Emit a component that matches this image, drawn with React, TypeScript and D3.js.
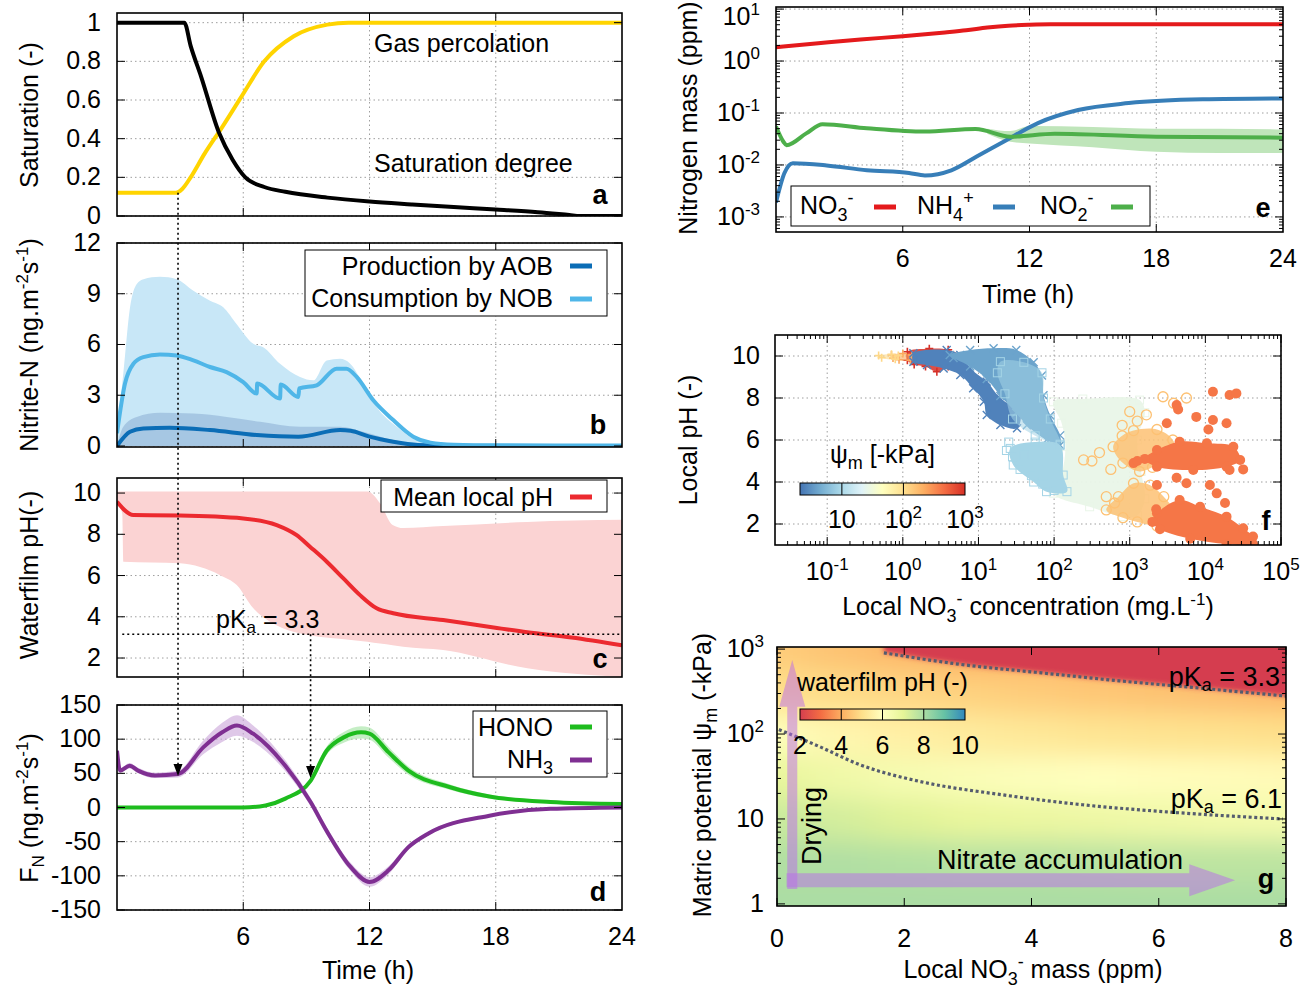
import * as d3 from 'd3';

// ---------- panel a : saturation ----------
const gasTime = [0, 2.8, 3.1, 3.5, 4.15, 5, 5.9, 7, 8.4, 10, 11, 24];
const gasPercolation = [0.12, 0.12, 0.14, 0.2, 0.32, 0.46, 0.615, 0.8, 0.93, 0.99, 1, 1];
const satTime = [0, 3.2, 3.5, 4, 4.85, 5.5, 6.1, 7, 8, 10, 12, 14, 16, 18, 20, 21.5, 22, 24];
const satDegree = [1, 1, 0.88, 0.72, 0.43, 0.29, 0.2, 0.15, 0.125, 0.095, 0.075, 0.06, 0.046, 0.034, 0.02, 0.005, 0, 0];
const satTicks = [0, 0.2, 0.4, 0.6, 0.8, 1];

// ---------- panel b : nitrite-N rates ----------
const nobTime = [0, 0.38, 0.78, 1.25, 2.04, 2.84, 3.63, 4.42, 5.21, 6.0, 6.64, 6.66, 7.75, 7.78, 8.62, 8.66, 9.49, 10.44, 10.9, 11.39, 12.18, 13.13, 14.08, 14.9, 16, 18, 24];
const nobRate = [0.76, 3.69, 4.86, 5.25, 5.41, 5.35, 5.06, 4.67, 4.37, 3.78, 3.1, 3.69, 2.8, 3.63, 2.9, 3.4, 3.59, 4.57, 4.57, 4.08, 2.7, 1.53, 0.55, 0.2, 0.08, 0.04, 0.03];
const nobBandTime = [0, 0.3, 0.62, 0.94, 1.26, 2.04, 2.84, 3.63, 4.42, 5.05, 5.69, 6.48, 6.95, 7.75, 8.7, 9.33, 9.97, 10.6, 11.07, 11.7, 12.34, 13.3, 14.24, 15.5, 18, 24];
const nobBandHi = [0.76, 4.3, 8.2, 9.57, 9.86, 10.0, 9.86, 9.18, 8.59, 8.2, 7.2, 6.04, 5.84, 4.86, 4.08, 3.88, 5.06, 5.15, 4.88, 3.69, 2.31, 1.14, 0.35, 0.12, 0.06, 0.05];
const aobTime = [0, 0.62, 1.25, 2.5, 4.42, 6.64, 8.62, 10.6, 11.1, 12, 13.13, 14.3, 16, 24];
const aobRate = [0, 0.84, 1.04, 1.08, 0.94, 0.65, 0.55, 0.94, 0.9, 0.55, 0.25, 0.06, 0.01, 0];
const aobBandTime = [0, 0.3, 0.94, 2.04, 3.63, 5.21, 6.8, 8.7, 10.6, 11.7, 13.13, 14.3, 16, 24];
const aobBandHi = [0.05, 1.14, 1.72, 1.96, 1.92, 1.72, 1.43, 1.14, 1.14, 0.84, 0.35, 0.1, 0.02, 0];
const nitriteTicks = [0, 3, 6, 9, 12];

// ---------- panel c : waterfilm pH ----------
const phTime = [0, 0.78, 3, 6.0, 7.59, 8.54, 9.17, 9.97, 10.76, 11.55, 12.34, 13.13, 15.5, 17.9, 19.5, 21.6, 24];
const phMean = [9.58, 8.93, 8.91, 8.77, 8.45, 7.96, 7.4, 6.67, 5.86, 5.05, 4.41, 4.17, 3.84, 3.48, 3.25, 3.0, 2.62];
const phBandTime = [0, 0.25, 0.3, 3, 4.9, 5.69, 6.48, 7.27, 8.38, 11.9, 12.5, 13.1, 13.6, 15.5, 19.5, 24];
const phBandHi = [10.07, 10.07, 10.07, 10.07, 10.07, 10.07, 10.07, 10.07, 10.07, 10.07, 9.5, 8.45, 8.3, 8.4, 8.6, 8.7];
const phBandLo = [9.58, 9.0, 6.67, 6.59, 6.02, 5.54, 4.41, 3.76, 3.28, 2.79, 2.7, 2.62, 2.55, 2.39, 1.5, 1.08];
const phTicks = [2, 4, 6, 8, 10];
const pkaHono = 3.15;

// ---------- panel d : fluxes ----------
const nh3Time = [0, 0.15, 0.6, 1.0, 1.8, 2.9, 4.1, 5.0, 5.7, 6.47, 8, 9.2, 9.96, 11.1, 12, 12.9, 13.85, 14.8, 17.7, 20.6, 24];
const nh3Flux = [83, 54, 61, 54, 47, 49, 88, 110, 120, 108, 61, 8, -34, -87, -109, -92, -58, -38, -12, -2, 0];
const nh3Spread = [0, 3, 4, 4, 4, 5, 10, 14, 15, 12, 8, 6, 6, 6, 7, 6, 4, 3, 2, 1, 1];
const honoTime = [0, 6, 7.06, 8, 9.2, 9.96, 10.8, 11.6, 12, 12.9, 13.85, 15.8, 17.7, 20.6, 24];
const honoFlux = [0, 0, 3, 13, 39, 83, 103, 110, 108, 81, 54, 30, 16, 8, 5];
const honoSpread = [0, 0, 1, 2, 4, 6, 8, 9, 9, 8, 6, 4, 3, 2, 2];
const fluxTicks = [-150, -100, -50, 0, 50, 100, 150];
const arrowTimes = [2.9, 9.2];

const timeTicks = [6, 12, 18];
const timeLabels = [6, 12, 18, 24];

// ---------- panel e : nitrogen mass ----------
const no3Time = [0, 2, 4, 6, 8, 9, 10, 11, 12, 13, 24];
const no3Mass = [1.85, 2.2, 2.6, 3.0, 3.55, 3.9, 4.4, 4.8, 5.0, 5.1, 5.1];
const nh4Time = [0, 0.4, 0.8, 2.4, 4.3, 6.3, 7.05, 8.3, 9.5, 10.9, 12.4, 14.3, 16.7, 20.2, 24];
const nh4Mass = [0.0019, 0.007, 0.0108, 0.0098, 0.0079, 0.007, 0.0063, 0.0079, 0.0145, 0.03, 0.064, 0.114, 0.155, 0.183, 0.19];
const no2Time = [0, 0.35, 0.5, 1.45, 2.2, 4.3, 7.05, 9.45, 11.1, 13.2, 18, 24];
const no2Mass = [0.055, 0.028, 0.024, 0.041, 0.061, 0.051, 0.044, 0.049, 0.035, 0.04, 0.035, 0.0335];
const no2BandTime = [10, 11.1, 12, 15, 18, 21, 24];
const no2BandHi = [0.05, 0.045, 0.056, 0.054, 0.05, 0.05, 0.048];
const no2BandLo = [0.04, 0.028, 0.026, 0.022, 0.018, 0.017, 0.017];
const massDecades = [-3, -2, -1, 0, 1];

// ---------- panel f : local pH vs local NO3- ([log10 conc, pH]) ----------
const fPale = [[1.99, 7.82], [2.38, 7.95], [3.13, 7.9], [3.2, 7.3], [3.1, 6.0], [3.15, 4.5], [3.2, 3.2], [3.1, 2.4], [2.91, 2.35], [2.47, 2.82], [1.99, 3.47], [2.1, 4.4], [2.15, 5.7], [2.1, 6.8]];
const fRingsUpper = [[2.78, 5.68], [2.9, 6.2], [3.05, 6.45], [3.36, 6.5], [3.57, 6.0], [3.6, 5.2], [3.3, 4.7], [3.13, 4.5], [2.91, 4.9]];
const fRingsLower = [[2.69, 2.67], [2.85, 3.3], [3.05, 3.94], [3.27, 3.85], [3.45, 3.3], [3.6, 2.5], [3.5, 1.95], [3.36, 1.9], [3.1, 2.1], [2.91, 2.3]];
const fDotsUpper = [[3.36, 5.52], [3.66, 5.92], [4.02, 5.84], [4.37, 5.68], [4.46, 5.05], [4.28, 4.73], [3.84, 4.57], [3.36, 4.73], [3.2, 5.1]];
const fDotsLower = [[3.36, 2.51], [3.66, 3.14], [3.93, 2.82], [4.28, 2.35], [4.5, 1.8], [4.63, 1.4], [4.63, 1.05], [4.28, 1.05], [3.8, 1.3], [3.4, 1.75], [3.3, 2.1]];
const fRedPlus = [[0.06, 10.2], [0.35, 10.35], [0.6, 10.3], [0.76, 10.0], [0.6, 9.5], [0.45, 9.25], [0.3, 9.5], [0.15, 9.6], [0.06, 9.8]];
const fOrangePlus = [[-0.15, 10.05], [0.0, 10.12], [0.12, 10.05], [0.1, 9.8], [-0.05, 9.82], [-0.13, 9.9]];
const fYellowPlus = [[-0.32, 10.02], [-0.15, 10.08], [-0.06, 10.02], [-0.1, 9.85], [-0.28, 9.92]];
const fDarkBlue = [[0.14, 10.13], [0.58, 10.29], [0.76, 10.05], [0.89, 9.41], [1.11, 8.78], [1.29, 7.98], [1.55, 7.35], [1.51, 6.56], [1.29, 6.71], [1.11, 7.19], [1.07, 7.82], [0.93, 8.46], [0.76, 9.1], [0.54, 9.41], [0.32, 9.57], [0.14, 9.73]];
const fMidBlue = [[0.62, 10.05], [0.89, 10.29], [1.2, 10.37], [1.5, 10.29], [1.73, 9.7], [1.84, 9.07], [1.86, 8.13], [1.95, 7.17], [2.08, 6.22], [2.08, 5.75], [1.9, 6.0], [1.64, 6.7], [1.5, 7.3], [1.29, 8.1], [1.11, 8.9], [0.89, 9.5], [0.67, 9.9]];
const fLightUpper = [[1.29, 9.73], [1.6, 9.7], [1.84, 9.2], [1.86, 8.0], [1.95, 7.0], [2.08, 5.8], [1.75, 6.2], [1.45, 7.0], [1.35, 8.2], [1.25, 9.2]];
const fLightLower = [[1.42, 5.6], [1.75, 5.9], [2.08, 5.75], [2.12, 4.33], [2.17, 3.54], [1.9, 3.54], [1.73, 4.0], [1.46, 4.81]];
const fDotsSparse = [[4.1, 8.3], [4.32, 8.14], [4.41, 8.22], [3.62, 7.67], [3.64, 7.45], [3.88, 7.1], [3.49, 6.8], [4.1, 6.95], [4.28, 6.8], [4.04, 6.5], [3.36, 3.86], [3.75, 3.94], [4.06, 3.86], [4.15, 3.46], [4.26, 3.0], [4.32, 4.57], [3.62, 4.2], [3.05, 4.9], [3.1, 5.0], [4.5, 4.6], [3.35, 2.7]];
const fRingsSparse = [[2.39, 5.05], [2.5, 5.0], [2.69, 3.3], [3.0, 7.35], [3.44, 8.06], [3.75, 8.0], [3.22, 7.2], [3.1, 6.9], [2.6, 5.4], [2.75, 4.6], [3.58, 7.75], [2.8, 3.0], [2.9, 6.7]];
const fSquaresSparse = [[1.37, 5.5], [1.45, 5.2], [1.55, 4.6], [1.7, 4.3], [2.0, 3.6], [1.4, 5.9], [1.6, 5.3], [1.85, 3.9]];
// log10 of matric potential (-kPa) of each cloud
const psiDarkBlue = 0.4, psiMidBlue = 0.6, psiLight = 0.95, psiPale = 1.42;
const psiRings = 2.2, psiDots = 2.62, psiRedPlus = 3.0, psiOrangePlus = 2.35, psiYellowPlus = 2.05;
const concDecades = [-1, 0, 1, 2, 3, 4, 5];
const fPhTicks = [2, 4, 6, 8, 10];
const psiBarTicks = [1, 2];

// ---------- panel g : waterfilm pH map ----------
const gMass = [0, 1, 2, 3, 4, 5, 6, 7, 8];
const gLogPsi = [0, 0.5, 1, 1.5, 2, 2.5, 3];
const gPh = [
  [8.0, 8.0, 8.0, 8.0, 8.0, 8.0, 8.0, 8.0, 8.0],
  [7.9, 7.9, 7.85, 7.8, 7.8, 7.75, 7.7, 7.7, 7.7],
  [7.5, 7.3, 7.1, 6.9, 6.8, 6.7, 6.6, 6.5, 6.45],
  [6.9, 6.6, 6.35, 6.2, 6.1, 6.0, 5.95, 5.9, 5.85],
  [6.1, 5.7, 5.5, 5.35, 5.25, 5.15, 5.1, 5.05, 5.0],
  [5.0, 4.9, 4.8, 4.7, 4.6, 4.5, 4.4, 4.3, 4.2],
  [4.6, 4.4, 4.2, 4.0, 4.0, 4.0, 4.0, 4.0, 4.0],
];
const pka33Mass = [1.68, 2.89, 4.16, 5.44, 6.71, 8.01];
const pka33Psi = [904, 660, 525, 419, 344, 279];
const pka61Mass = [0.03, 0.66, 1.3, 2.25, 3.53, 4.8, 6.07, 7.95];
const pka61Psi = [113, 71.6, 43.6, 27.6, 19.3, 14.7, 12.2, 10.0];
const gMassTicks = [0, 2, 4, 6, 8];
const gPsiTicks = [1, 10, 100, 1000];
const gBarTicks = [2, 4, 6, 8, 10];

// ---------- styling ----------
const FONT = '"Liberation Sans", Arial, Helvetica, sans-serif';
const GRID = '#9e9e9e';
const psiStops = ['#4575b4', '#74add1', '#abd9e9', '#e0f3f8', '#ffffbf', '#fee090', '#fdae61', '#f46d43', '#d73027'];
const phStops = ['#d53e4f', '#f46d43', '#fdae61', '#fee08b', '#ffffbf', '#e6f598', '#abdda4', '#66c2a5', '#3288bd'];

// ---------- scales ----------
const xT = d3.scaleLinear().domain([0, 24]).range([117, 622]);
const yA = d3.scaleLinear().domain([0, 1.05]).range([216, 13]);
const yB = d3.scaleLinear().domain([-0.06, 12]).range([447, 243]);
const yC = d3.scaleLinear().domain([1.08, 10.73]).range([677, 478]);
const yD = d3.scaleLinear().domain([-150, 150]).range([910, 705]);
const xE = d3.scaleLinear().domain([0, 24]).range([776, 1283]);
const yE = d3.scaleLog().domain([10 ** -3.29, 10 ** 1.04]).range([232, 7]);
const xF = d3.scaleLog().domain([10 ** -1.69, 1e5]).range([775, 1281]);
const yF = d3.scaleLinear().domain([1, 11]).range([545, 335]);
const xG = d3.scaleLinear().domain([0, 8]).range([777, 1286]);
const yG = d3.scaleLog().domain([10 ** -0.025, 10 ** 3.025]).range([906, 647]);
const psiColor = d3.scaleLinear<string>().domain(d3.range(9).map((i) => 0.32 + (i * 2.68) / 8)).range(psiStops);
const phColor = d3.scaleLinear<string>().domain([2, 3, 4, 5, 6, 7, 8, 9, 10]).range(phStops);
const cbF = d3.scaleLinear().domain([0.32, 3]).range([800, 965]);
const cbG = d3.scaleLinear().domain([2, 10]).range([800, 965]);

const linePath = (ts: number[], vs: number[], sx: any, sy: any) =>
  d3.line<number>().x((_, i) => sx(ts[i])).y((v) => sy(v)).curve(d3.curveMonotoneX)(vs) ?? '';
const areaPath = (ts: number[], lo: number[], hi: number[], sx: any, sy: any) =>
  d3.area<number>().x((t) => sx(t)).y0((_, i) => sy(lo[i])).y1((_, i) => sy(hi[i])).curve(d3.curveMonotoneX)(ts) ?? '';
const hullPath = (pts: number[][]) =>
  d3.line<number[]>().x((p) => xF(10 ** p[0])).y((p) => yF(p[1])).curve(d3.curveCatmullRomClosed.alpha(0.5))(pts) ?? '';
const logMinor = (lo: number, hi: number, dmin: number, dmax: number) =>
  d3.range(lo, hi).flatMap((k) => d3.range(2, 10).map((m) => m * 10 ** k)).filter((v) => v > dmin && v < dmax);

function Axes({ sx, sy, xTicks, yTicks, xMinor = [], yMinor = [], grid = true, id, children }: any) {
  const [x0, x1] = sx.range();
  const [y0, y1] = sy.range();
  return (
    <g>
      <clipPath id={id}>
        <rect x={x0} y={y1} width={x1 - x0} height={y0 - y1} />
      </clipPath>
      {grid && (
        <g stroke={GRID} strokeWidth={1} strokeDasharray="1.5,3">
          {xTicks.map((t: number) => <line key={'gx' + t} x1={sx(t)} x2={sx(t)} y1={y0} y2={y1} />)}
          {yTicks.map((t: number) => <line key={'gy' + t} x1={x0} x2={x1} y1={sy(t)} y2={sy(t)} />)}
        </g>
      )}
      <g clipPath={`url(#${id})`}>{children}</g>
      <g stroke="#000" strokeWidth={1}>
        {xTicks.map((t: number) => <path key={'tx' + t} d={`M${sx(t)},${y0}v-8M${sx(t)},${y1}v8`} />)}
        {yTicks.map((t: number) => <path key={'ty' + t} d={`M${x0},${sy(t)}h8M${x1},${sy(t)}h-8`} />)}
        {xMinor.map((t: number) => <path key={'mx' + t} d={`M${sx(t)},${y0}v-4M${sx(t)},${y1}v4`} />)}
        {yMinor.map((t: number) => <path key={'my' + t} d={`M${x0},${sy(t)}h4M${x1},${sy(t)}h-4`} />)}
      </g>
      <rect x={x0} y={y1} width={x1 - x0} height={y0 - y1} fill="none" stroke="#000" strokeWidth={1.6} />
    </g>
  );
}

function Marker({ kind, x, y, color }: any) {
  const s = 4;
  if (kind === 'plus') return <path d={`M${x - s},${y}H${x + s}M${x},${y - s}V${y + s}`} stroke={color} strokeWidth={1.6} />;
  if (kind === 'cross') return <path d={`M${x - s},${y - s}L${x + s},${y + s}M${x - s},${y + s}L${x + s},${y - s}`} stroke={color} strokeWidth={1.4} />;
  if (kind === 'square') return <rect x={x - s} y={y - s} width={2 * s} height={2 * s} fill="none" stroke={color} strokeWidth={1} />;
  if (kind === 'ring') return <circle cx={x} cy={y} r={5} fill="none" stroke={color} strokeWidth={1.3} />;
  return <circle cx={x} cy={y} r={5} fill={color} />;
}

const Sup = ({ t }: { t: string }) => (
  <tspan dy={-10} fontSize={17}>
    {t}
  </tspan>
);

function Arrowhead({ x, y }: { x: number; y: number }) {
  return <path d={`M${x},${y}L${x - 4.5},${y - 12}L${x + 4.5},${y - 12}Z`} fill="#000" />;
}

function LegendLine({ x, y, color }: any) {
  return <line x1={x} x2={x + 22} y1={y} y2={y} stroke={color} strokeWidth={5} />;
}

export default function App() {
  const fLayers = [
    { pts: fPale, psi: psiPale, kind: 'square', op: 0.95 },
    { pts: fRingsUpper, psi: psiRings, kind: 'ring', op: 0.85 },
    { pts: fRingsLower, psi: psiRings, kind: 'ring', op: 0.85 },
    { pts: fDotsUpper, psi: psiDots, kind: 'dot', op: 1 },
    { pts: fDotsLower, psi: psiDots, kind: 'dot', op: 1 },
    { pts: fRedPlus, psi: psiRedPlus, kind: 'plus', op: 0.85 },
    { pts: fOrangePlus, psi: psiOrangePlus, kind: 'plus', op: 0.6 },
    { pts: fYellowPlus, psi: psiYellowPlus, kind: 'plus', op: 0.6 },
    { pts: fDarkBlue, psi: psiDarkBlue, kind: 'cross', op: 1 },
    { pts: fMidBlue, psi: psiMidBlue, kind: 'cross', op: 1 },
    { pts: fLightLower, psi: psiLight, kind: 'square', op: 1 },
    { pts: fLightUpper, psi: psiLight, kind: 'square', op: 0.55 },
  ];

  const massMinor = logMinor(-4, 1, yE.domain()[0], yE.domain()[1]);
  const concMinor = logMinor(-2, 5, xF.domain()[0], xF.domain()[1]);
  const psiMinor = logMinor(0, 3, yG.domain()[0], yG.domain()[1]);

  const pka33Line = d3.line<number>().x((m) => xG(m)).y((_, i) => yG(pka33Psi[i])).curve(d3.curveMonotoneX)(pka33Mass) ?? '';
  const pka61Line = d3.line<number>().x((m) => xG(m)).y((_, i) => yG(pka61Psi[i])).curve(d3.curveMonotoneX)(pka61Mass) ?? '';
  const redTop = yG(1200);
  const redRegion = `${pka33Line}L${xG(8.4)},${yG(pka33Psi[pka33Psi.length - 1])}L${xG(8.4)},${redTop}L${xG(pka33Mass[0])},${redTop}Z`;

  return (
    <svg
      width={1308}
      height={989}
      viewBox="0 0 1308 989"
      style={{ position: 'absolute', left: 0, top: 0, display: 'block' }}
      fontFamily={FONT}
      fontSize={25}
    >
      <defs>
        <linearGradient id="psiGrad" x1="0" x2="1" y1="0" y2="0">
          {psiStops.map((c, i) => <stop key={c} offset={i / 8} stopColor={c} />)}
        </linearGradient>
        <linearGradient id="phGrad" x1="0" x2="1" y1="0" y2="0">
          {phStops.map((c, i) => <stop key={c} offset={i / 8} stopColor={c} />)}
        </linearGradient>
        <filter id="blurG" x="-50%" y="-50%" width="200%" height="200%">
          <feGaussianBlur stdDeviation="20 13" />
        </filter>
        <filter id="blurRed" x="-10%" y="-10%" width="120%" height="120%">
          <feGaussianBlur stdDeviation="2.5" />
        </filter>
      </defs>
      <rect width={1308} height={989} fill="#fff" />

      {/* ---------------- a ---------------- */}
      <Axes sx={xT} sy={yA} xTicks={timeTicks} yTicks={satTicks} id="clipA">
        <path d={linePath(gasTime, gasPercolation, xT, yA)} fill="none" stroke="#ffd400" strokeWidth={4} />
        <path d={linePath(satTime, satDegree, xT, yA)} fill="none" stroke="#000" strokeWidth={4} />
      </Axes>
      {satTicks.map((t) => (
        <text key={'la' + t} x={101} y={yA(t) + 8} textAnchor="end">{String(t)}</text>
      ))}
      <text x={374} y={52}>Gas percolation</text>
      <text x={374} y={172}>Saturation degree</text>
      <text x={600} y={204} textAnchor="middle" fontWeight="bold" fontSize={27}>a</text>
      <text transform="translate(38,115) rotate(-90)" textAnchor="middle">Saturation (-)</text>

      {/* ---------------- b ---------------- */}
      <Axes sx={xT} sy={yB} xTicks={timeTicks} yTicks={nitriteTicks} id="clipB">
        <path d={areaPath(nobBandTime, nobBandTime.map(() => 0), nobBandHi, xT, yB)} fill="#c8e7f7" />
        <path d={areaPath(aobBandTime, aobBandTime.map(() => 0), aobBandHi, xT, yB)} fill="#97b9da" fillOpacity={0.7} />
        <path d={linePath(aobTime, aobRate, xT, yB)} fill="none" stroke="#0b6db6" strokeWidth={4} />
        <path d={linePath(nobTime, nobRate, xT, yB)} fill="none" stroke="#4fb6e8" strokeWidth={4} />
      </Axes>
      {nitriteTicks.map((t) => (
        <text key={'lb' + t} x={101} y={yB(t) + 8} textAnchor="end">{String(t)}</text>
      ))}
      <rect x={305} y={250} width={302} height={66} fill="#fff" stroke="#000" strokeWidth={1} />
      <text x={553} y={275} textAnchor="end">Production by AOB</text>
      <text x={553} y={307} textAnchor="end">Consumption by NOB</text>
      <LegendLine x={570} y={266} color="#0b6db6" />
      <LegendLine x={570} y={299} color="#4fb6e8" />
      <text x={598} y={434} textAnchor="middle" fontWeight="bold" fontSize={27}>b</text>
      <text transform="translate(38,345) rotate(-90)" textAnchor="middle">
        Nitrite-N (ng.m<Sup t="-2" /><tspan dy={10}>s</tspan><Sup t="-1" /><tspan dy={10}>)</tspan>
      </text>

      {/* ---------------- c ---------------- */}
      <Axes sx={xT} sy={yC} xTicks={timeTicks} yTicks={phTicks} id="clipC">
        <path d={areaPath(phBandTime, phBandLo, phBandHi, xT, yC)} fill="#fbd3d3" />
        <path d={linePath(phTime, phMean, xT, yC)} fill="none" stroke="#ec2a2f" strokeWidth={4} />
        <line x1={xT(0.25)} x2={xT(24)} y1={yC(pkaHono)} y2={yC(pkaHono)} stroke="#000" strokeWidth={1.6} strokeDasharray="2,3" />
      </Axes>
      {phTicks.map((t) => (
        <text key={'lc' + t} x={101} y={yC(t) + 8} textAnchor="end">{String(t)}</text>
      ))}
      <rect x={381} y={480} width={226} height={32} fill="#fff" stroke="#000" strokeWidth={1} />
      <text x={553} y={506} textAnchor="end">Mean local pH</text>
      <LegendLine x={570} y={497} color="#ec2a2f" />
      <text x={216} y={628}>
        pK<tspan dy={5} fontSize={17}>a</tspan>
        <tspan dy={-5}> = 3.3</tspan>
      </text>
      <text x={600} y={668} textAnchor="middle" fontWeight="bold" fontSize={27}>c</text>
      <text transform="translate(38,575) rotate(-90)" textAnchor="middle">Waterfilm pH(-)</text>

      {/* ---------------- d ---------------- */}
      <Axes sx={xT} sy={yD} xTicks={timeTicks} yTicks={fluxTicks} id="clipD">
        <path d={areaPath(nh3Time, nh3Flux.map((v, i) => v - nh3Spread[i]), nh3Flux.map((v, i) => v + nh3Spread[i]), xT, yD)} fill="#c9a3d8" fillOpacity={0.6} />
        <path d={areaPath(honoTime, honoFlux.map((v, i) => v - honoSpread[i]), honoFlux.map((v, i) => v + honoSpread[i]), xT, yD)} fill="#9fe29f" fillOpacity={0.6} />
        <path d={linePath(honoTime, honoFlux, xT, yD)} fill="none" stroke="#1ebc1e" strokeWidth={4} />
        <path d={linePath(nh3Time, nh3Flux, xT, yD)} fill="none" stroke="#7f2f92" strokeWidth={4} />
      </Axes>
      {fluxTicks.map((t) => (
        <text key={'ld' + t} x={101} y={yD(t) + 8} textAnchor="end">{String(t)}</text>
      ))}
      {timeLabels.map((t) => (
        <text key={'xd' + t} x={xT(t)} y={945} textAnchor="middle">{String(t)}</text>
      ))}
      <rect x={473} y={711} width={134} height={66} fill="#fff" stroke="#000" strokeWidth={1} />
      <text x={553} y={736} textAnchor="end">HONO</text>
      <text x={553} y={768} textAnchor="end">
        NH<tspan dy={6} fontSize={18}>3</tspan>
      </text>
      <LegendLine x={570} y={727} color="#1ebc1e" />
      <LegendLine x={570} y={760} color="#7f2f92" />
      <text x={598} y={901} textAnchor="middle" fontWeight="bold" fontSize={27}>d</text>
      <text x={368} y={979} textAnchor="middle">Time (h)</text>
      <text transform="translate(38,808) rotate(-90)" textAnchor="middle">
        F<tspan dy={6} fontSize={17}>N</tspan>
        <tspan dy={-6}> (ng.m</tspan>
        <Sup t="-2" />
        <tspan dy={10}>s</tspan>
        <Sup t="-1" />
        <tspan dy={10}>)</tspan>
      </text>

      {/* dotted onset arrows across a-d */}
      <g stroke="#000" strokeWidth={1.6} strokeDasharray="2,3">
        <line x1={xT(arrowTimes[0])} x2={xT(arrowTimes[0])} y1={yA(0.12)} y2={yD(46) - 10} />
        <line x1={xT(arrowTimes[1])} x2={xT(arrowTimes[1])} y1={yC(pkaHono)} y2={yD(43) - 10} />
      </g>
      <Arrowhead x={xT(arrowTimes[0])} y={yD(46)} />
      <Arrowhead x={xT(arrowTimes[1])} y={yD(43)} />

      {/* ---------------- e ---------------- */}
      <Axes sx={xE} sy={yE} xTicks={timeTicks} yTicks={massDecades.map((k) => 10 ** k)} yMinor={massMinor} id="clipE">
        <path d={areaPath(no2BandTime, no2BandLo, no2BandHi, xE, yE)} fill="#bfe5ba" />
        <path d={linePath(no3Time, no3Mass, xE, yE)} fill="none" stroke="#e41a1c" strokeWidth={4} />
        <path d={linePath(nh4Time, nh4Mass, xE, yE)} fill="none" stroke="#377eb8" strokeWidth={4} />
        <path d={linePath(no2Time, no2Mass, xE, yE)} fill="none" stroke="#4daf4a" strokeWidth={4} />
      </Axes>
      {massDecades.map((k) => (
        <text key={'le' + k} x={760} y={Math.max(25, yE(10 ** k) + 8)} textAnchor="end">
          10<Sup t={String(k)} />
        </text>
      ))}
      {timeLabels.map((t) => (
        <text key={'xe' + t} x={xE(t)} y={267} textAnchor="middle">{String(t)}</text>
      ))}
      <rect x={791} y={186} width={359} height={40} fill="#fff" stroke="#000" strokeWidth={1} />
      <text x={800} y={214}>
        NO<tspan dy={7} fontSize={18}>3</tspan>
        <tspan dy={-17} fontSize={18}>-</tspan>
      </text>
      <LegendLine x={874} y={207} color="#e41a1c" />
      <text x={917} y={214}>
        NH<tspan dy={7} fontSize={18}>4</tspan>
        <tspan dy={-17} fontSize={18}>+</tspan>
      </text>
      <LegendLine x={993} y={207} color="#377eb8" />
      <text x={1040} y={214}>
        NO<tspan dy={7} fontSize={18}>2</tspan>
        <tspan dy={-17} fontSize={18}>-</tspan>
      </text>
      <LegendLine x={1111} y={207} color="#4daf4a" />
      <text x={1263} y={217} textAnchor="middle" fontWeight="bold" fontSize={27}>e</text>
      <text x={1028} y={303} textAnchor="middle">Time (h)</text>
      <text transform="translate(697,118) rotate(-90)" textAnchor="middle">Nitrogen mass (ppm)</text>

      {/* ---------------- f ---------------- */}
      <Axes sx={xF} sy={yF} xTicks={concDecades.map((k) => 10 ** k)} yTicks={fPhTicks} xMinor={concMinor} id="clipF">
        {fLayers.map((l, i) => (
          <g key={'fl' + i}>
            <path d={hullPath(l.pts)} fill={psiColor(l.psi)} fillOpacity={l.op} />
            {l.pts.map((p, j) => (
              <Marker key={j} kind={l.kind} x={xF(10 ** p[0])} y={yF(p[1])} color={psiColor(l.psi)} />
            ))}
          </g>
        ))}
        {fSquaresSparse.map((p, j) => (
          <Marker key={'ss' + j} kind="square" x={xF(10 ** p[0])} y={yF(p[1])} color={psiColor(psiLight)} />
        ))}
        {fRingsSparse.map((p, j) => (
          <Marker key={'rs' + j} kind="ring" x={xF(10 ** p[0])} y={yF(p[1])} color={psiColor(psiRings)} />
        ))}
        {fDotsSparse.map((p, j) => (
          <Marker key={'ds' + j} kind="dot" x={xF(10 ** p[0])} y={yF(p[1])} color={psiColor(psiDots)} />
        ))}
      </Axes>
      {fPhTicks.map((t) => (
        <text key={'lf' + t} x={760} y={yF(t) + 8} textAnchor="end">{String(t)}</text>
      ))}
      {concDecades.map((k) => (
        <text key={'xf' + k} x={xF(10 ** k)} y={580} textAnchor="middle">
          10<Sup t={String(k)} />
        </text>
      ))}
      <text x={830} y={463}>
        ψ<tspan dy={6} fontSize={18}>m</tspan>
        <tspan dy={-6}> [-kPa]</tspan>
      </text>
      <rect x={800} y={483} width={165} height={12} fill="url(#psiGrad)" stroke="#000" strokeWidth={1} />
      {psiBarTicks.map((k) => (
        <line key={'cbf' + k} x1={cbF(k)} x2={cbF(k)} y1={483} y2={495} stroke="#000" strokeWidth={1} />
      ))}
      {[1, 2, 3].map((k) => (
        <text key={'cbl' + k} x={cbF(k)} y={528} textAnchor="middle">
          10{k > 1 ? <Sup t={String(k)} /> : null}
        </text>
      ))}
      <text x={1266} y={530} textAnchor="middle" fontWeight="bold" fontSize={27}>f</text>
      <text x={1028} y={615} textAnchor="middle">
        Local NO<tspan dy={7} fontSize={18}>3</tspan>
        <tspan dy={-17} fontSize={18}>-</tspan>
        <tspan dy={10}> concentration (mg.L</tspan>
        <Sup t="-1" />
        <tspan dy={10}>)</tspan>
      </text>
      <text transform="translate(697,440) rotate(-90)" textAnchor="middle">Local pH (-)</text>

      {/* ---------------- g ---------------- */}
      <Axes sx={xG} sy={yG} xTicks={gMassTicks} yTicks={gPsiTicks} yMinor={psiMinor} grid={false} id="clipG">
        <g filter="url(#blurG)">
          {gPh.map((row, i) =>
            row.map((ph, j) => {
              const xl = j === 0 ? -2.5 : gMass[j] - 0.5;
              const xr = j === gMass.length - 1 ? 10.5 : gMass[j] + 0.5;
              const lb = i === 0 ? -1.5 : gLogPsi[i] - 0.25;
              const lt = i === gLogPsi.length - 1 ? 4.5 : gLogPsi[i] + 0.25;
              return (
                <rect
                  key={`c${i}-${j}`}
                  x={xG(xl)}
                  y={yG(10 ** lt)}
                  width={xG(xr) - xG(xl) + 0.5}
                  height={yG(10 ** lb) - yG(10 ** lt) + 0.5}
                  fill={phColor(ph)}
                />
              );
            }),
          )}
        </g>
        <path d={redRegion} fill={phColor(2)} filter="url(#blurRed)" />
        <path d={pka33Line} fill="none" stroke="#555c6e" strokeWidth={3.2} strokeDasharray="3,2.6" />
        <path d={pka61Line} fill="none" stroke="#555c6e" strokeWidth={3.2} strokeDasharray="3,2.6" />
        {/* drying / accumulation arrows */}
        <g fill="rgb(185,105,235)" fillOpacity={0.5}>
          <path d={`M${xG(0.24) - 5},${yG(1.5)}V${yG(210)}H${xG(0.24) - 13}L${xG(0.24)},${yG(745)}L${xG(0.24) + 13},${yG(210)}H${xG(0.24) + 5}V${yG(1.5)}Z`} />
          <path d={`M${xG(0.15)},${yG(1.9) - 7}H${xG(6.48)}V${yG(1.9) - 16}L${xG(7.2)},${yG(1.9)}L${xG(6.48)},${yG(1.9) + 16}V${yG(1.9) + 7}H${xG(0.15)}Z`} />
        </g>
      </Axes>
      <text transform={`translate(${xG(0.24) + 29},826) rotate(-90)`} textAnchor="middle" fontSize={27}>Drying</text>
      <text x={1060} y={869} textAnchor="middle" fontSize={27}>Nitrate accumulation</text>
      <text x={1280} y={686} textAnchor="end" fontSize={27}>
        pK<tspan dy={5} fontSize={18}>a</tspan>
        <tspan dy={-5}> = 3.3</tspan>
      </text>
      <text x={1282} y={808} textAnchor="end" fontSize={27}>
        pK<tspan dy={5} fontSize={18}>a</tspan>
        <tspan dy={-5}> = 6.1</tspan>
      </text>
      <text x={797} y={691}>waterfilm pH (-)</text>
      <rect x={800} y={709} width={165} height={11} fill="url(#phGrad)" stroke="#000" strokeWidth={1} />
      {gBarTicks.slice(1, -1).map((v) => (
        <line key={'cbg' + v} x1={cbG(v)} x2={cbG(v)} y1={709} y2={720} stroke="#000" strokeWidth={1} />
      ))}
      {gBarTicks.map((v) => (
        <text key={'cgl' + v} x={cbG(v)} y={754} textAnchor="middle">{String(v)}</text>
      ))}
      <text x={1266} y={888} textAnchor="middle" fontWeight="bold" fontSize={27}>g</text>
      {gPsiTicks.map((v) => (
        <text key={'lg' + v} x={764} y={yG(v) + 8} textAnchor="end">
          {v < 100 ? String(v) : <>10<Sup t={String(Math.round(Math.log10(v)))} /></>}
        </text>
      ))}
      {gMassTicks.map((v) => (
        <text key={'xg' + v} x={xG(v)} y={947} textAnchor="middle">{String(v)}</text>
      ))}
      <text x={1033} y={978} textAnchor="middle">
        Local NO<tspan dy={7} fontSize={18}>3</tspan>
        <tspan dy={-17} fontSize={18}>-</tspan>
        <tspan dy={10}> mass (ppm)</tspan>
      </text>
      <text transform="translate(711,775) rotate(-90)" textAnchor="middle">
        Matric potential ψ<tspan dy={6} fontSize={18}>m</tspan>
        <tspan dy={-6}> (-kPa)</tspan>
      </text>
    </svg>
  );
}
